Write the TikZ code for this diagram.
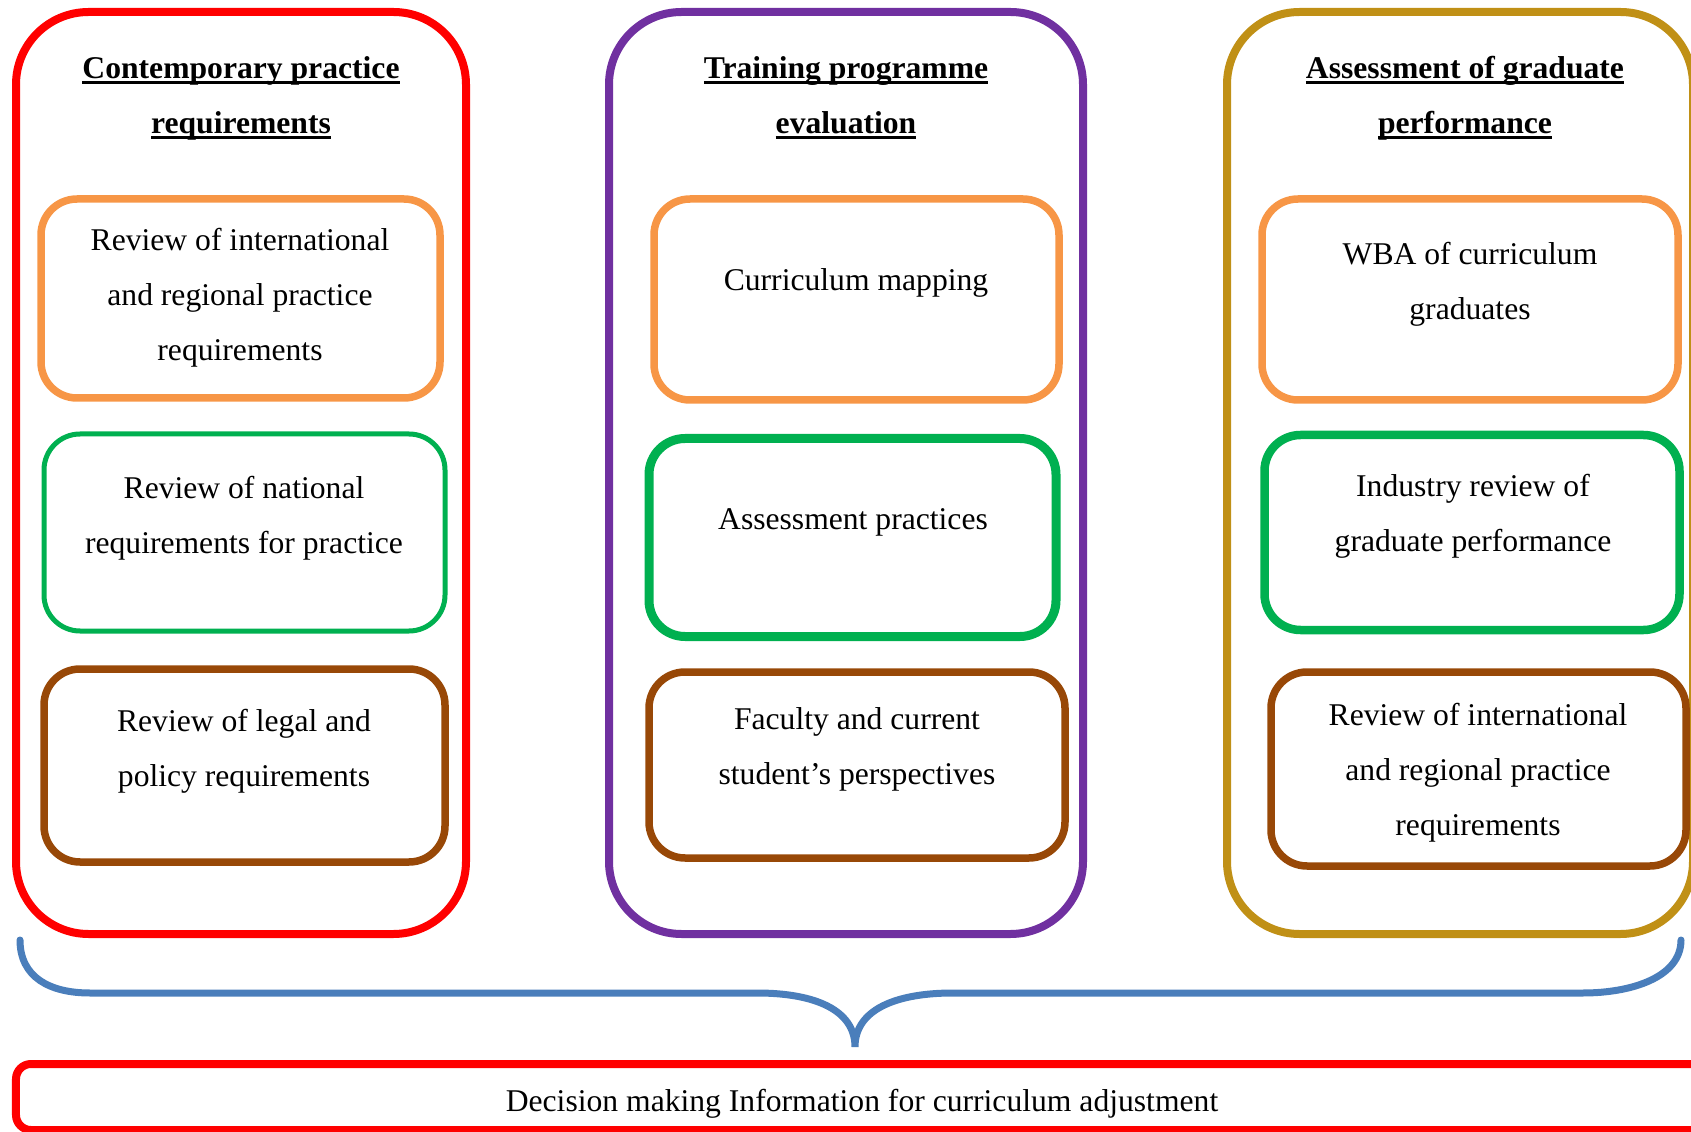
\documentclass[tikz,border=0pt]{standalone}
\usepackage{fontspec}
\setmainfont{Liberation Serif}
\usepackage{tikz}
\usetikzlibrary{shapes, arrows.meta}

\definecolor{PanelRed}{HTML}{FF0000}
\definecolor{PanelPurple}{HTML}{7030A0}
\definecolor{PanelGold}{HTML}{C09016}
\definecolor{BoxOrange}{HTML}{F79646}
\definecolor{BoxGreen}{HTML}{00B050}
\definecolor{BoxBrown}{HTML}{984807}
\definecolor{BraceBlue}{HTML}{4A7EBB}

% thick underline for the column headings
\newsavebox\HeadBox
\newcommand{\HeadLine}[1]{\sbox\HeadBox{#1}\rlap{\usebox\HeadBox}\rule[-3.4pt]{\wd\HeadBox}{1.7pt}}

\begin{document}
\begin{tikzpicture}[
	Panel/.style={rectangle, rounded corners=1.45cm, line width=0.16cm, minimum height=18.44cm},
	SubBox/.style={rectangle, rounded corners=0.72cm, line width=0.15cm},
	BoxText/.style={align=center, font=\fontsize{18pt}{31.3pt}\selectfont},
	Heading/.style={align=center, font=\fontsize{18pt}{31.3pt}\selectfont\bfseries}
	]

\useasboundingbox (0,0) rectangle (33.82,-22.64);

% the three columns
\node [Panel, draw=PanelRed, minimum width=9cm] (contemp) at (4.82,-9.46) {};
\node [Panel, draw=PanelPurple, minimum width=9.48cm] (training) at (16.92,-9.46) {};
\node [Panel, draw=PanelGold, minimum width=9.32cm] (graduate) at (29.20,-9.46) {};

\node [Heading] (contemp-head) at (4.82,-1.96) {\HeadLine{Contemporary practice}\\\HeadLine{requirements}};
\node [Heading] (training-head) at (16.92,-1.96) {\HeadLine{Training programme}\\\HeadLine{evaluation}};
\node [Heading] (graduate-head) at (29.30,-1.96) {\HeadLine{Assessment of graduate}\\\HeadLine{performance}};

% left column
\node [SubBox, draw=BoxOrange, minimum width=7.98cm, minimum height=3.98cm] (intl) at (4.81,-5.97) {};
\node [SubBox, draw=BoxGreen, line width=0.1cm, minimum width=8.02cm, minimum height=3.94cm] (national) at (4.89,-10.65) {};
\node [SubBox, draw=BoxBrown, minimum width=8.02cm, minimum height=3.86cm] (legal) at (4.89,-15.31) {};
\node [BoxText] (intl-text) at (4.80,-5.96) {Review of international\\and regional practice\\requirements};
\node [BoxText] (national-text) at (4.88,-10.36) {Review of national\\requirements for practice};
\node [BoxText] (legal-text) at (4.88,-15.02) {Review of legal and\\policy requirements};

% middle column
\node [SubBox, draw=BoxOrange, minimum width=8.10cm, minimum height=4.02cm] (mapping) at (17.13,-5.99) {};
\node [SubBox, draw=BoxGreen, line width=0.18cm, minimum width=8.14cm, minimum height=3.96cm] (assess) at (17.05,-10.75) {};
\node [SubBox, draw=BoxBrown, minimum width=8.32cm, minimum height=3.72cm] (faculty) at (17.14,-15.30) {};
\node [BoxText] (mapping-text) at (17.12,-5.66) {Curriculum mapping};
\node [BoxText] (assess-text) at (17.06,-10.44) {Assessment practices};
\node [BoxText] (faculty-text) at (17.14,-14.98) {Faculty and current\\student’s perspectives};

% right column
\node [SubBox, draw=BoxOrange, minimum width=8.32cm, minimum height=4.02cm] (wba) at (29.40,-5.99) {};
\node [SubBox, draw=BoxGreen, line width=0.17cm, minimum width=8.30cm, minimum height=3.90cm] (industry) at (29.44,-10.65) {};
\node [SubBox, draw=BoxBrown, minimum width=8.30cm, minimum height=3.88cm] (intl2) at (29.57,-15.38) {};
\node [BoxText] (wba-text) at (29.40,-5.68) {WBA of curriculum\\graduates};
\node [BoxText] (industry-text) at (29.46,-10.32) {Industry review of\\graduate performance};
\node [BoxText] (intl2-text) at (29.56,-15.46) {Review of international\\and regional practice\\requirements};

% brace gathering the columns
\coordinate (brace-tip) at (17.10,-20.94);
\draw [BraceBlue, line width=0.14cm, line cap=round]
	(0.40,-18.80) .. controls (0.40,-19.55) and (1.0,-19.86) .. (1.80,-19.86)
	-- (15.14,-19.86) .. controls (16.3,-19.86) and (17.10,-20.2) .. (brace-tip)
	.. controls (17.10,-20.2) and (17.9,-19.86) .. (19.06,-19.86)
	-- (31.66,-19.86) .. controls (32.62,-19.86) and (33.62,-19.55) .. (33.62,-18.80);

% outcome box
\node [rectangle, draw=PanelRed, line width=0.16cm, rounded corners=0.3cm, minimum width=34.08cm, minimum height=1.32cm] (decision) at (17.36,-21.94) {};
\node [BoxText] (decision-text) at (17.24,-22.08) {Decision making Information for curriculum adjustment};

\end{tikzpicture}
\end{document}
